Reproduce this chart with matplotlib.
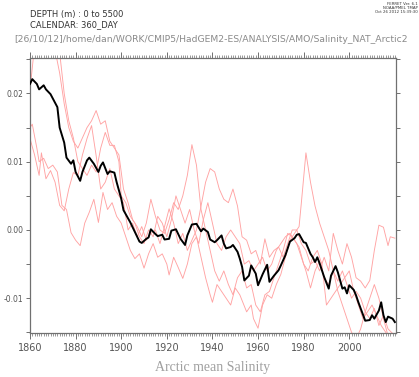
import matplotlib
matplotlib.use("Agg")
import matplotlib.pyplot as plt
from matplotlib.ticker import MultipleLocator, FormatStrFormatter

plt.rcParams['axes.unicode_minus'] = False
plt.rcParams['font.family'] = ['DejaVu Sans']

# Ensemble mean (black)
mean_years = [1860, 1861, 1863, 1864, 1866, 1867, 1869, 1872, 1873, 1875, 1876, 1878, 1879, 1880,
              1882, 1883, 1885, 1886, 1888, 1890, 1891, 1892, 1894, 1895, 1897, 1898, 1900, 1901,
              1904, 1906, 1908, 1909, 1911, 1912, 1913, 1915, 1916, 1918, 1919, 1921, 1922, 1924,
              1926, 1928, 1929, 1931, 1933, 1935, 1936, 1938, 1939, 1941, 1942, 1944, 1945, 1946,
              1948, 1949, 1951, 1952, 1953, 1954, 1956, 1957, 1959, 1960, 1962, 1964, 1965, 1967,
              1969, 1970, 1972, 1974, 1976, 1977, 1978, 1980, 1981, 1983, 1984, 1985, 1986, 1987,
              1989, 1991, 1992, 1994, 1995, 1997, 1998, 1999, 2000, 2002, 2003, 2004, 2006, 2007,
              2009, 2010, 2011, 2013, 2014, 2015, 2016, 2017, 2019, 2020]
mean_vals = [0.0214, 0.0221, 0.0214, 0.0206, 0.0212, 0.0206, 0.0199, 0.0180, 0.0150, 0.0128, 0.0106,
             0.0097, 0.0102, 0.0085, 0.0072, 0.0085, 0.0102, 0.0106, 0.0097, 0.0085, 0.0094, 0.0099,
             0.0082, 0.0086, 0.0084, 0.0070, 0.0046, 0.0029, 0.0011, -0.0003, -0.0017, -0.0019,
             -0.0013, -0.0011, 0.0001, -0.0006, -0.0009, -0.0007, -0.0014, -0.0013, -0.0001, 0.0001,
             -0.0013, -0.0022, -0.0008, 0.0008, 0.0009, -0.0002, 0.0002, -0.0003, -0.0014, -0.0018,
             -0.0015, -0.0008, -0.0020, -0.0027, -0.0025, -0.0022, -0.0032, -0.0042, -0.0054, -0.0074,
             -0.0067, -0.0052, -0.0064, -0.0081, -0.0065, -0.0051, -0.0076, -0.0067, -0.0059, -0.0052,
             -0.0037, -0.0017, -0.0012, -0.0007, -0.0006, -0.0018, -0.0019, -0.0035, -0.0040, -0.0047,
             -0.0040, -0.0049, -0.0069, -0.0086, -0.0067, -0.0053, -0.0062, -0.0086, -0.0084, -0.0093,
             -0.0081, -0.0088, -0.0096, -0.0106, -0.0124, -0.0133, -0.0132, -0.0125, -0.0130, -0.0118,
             -0.0106, -0.0125, -0.0135, -0.0127, -0.0130, -0.0135]

# Ensemble members (red)
m1_years = [1860, 1862, 1866, 1870, 1873, 1875, 1877, 1879, 1881, 1883, 1885, 1887, 1889, 1891, 1893,
            1895, 1897, 1899, 1901, 1903, 1905, 1907, 1909, 1911, 1913, 1915, 1917, 1919, 1921, 1923,
            1925, 1927, 1929, 1931, 1933, 1935, 1937, 1939, 1941, 1943, 1945, 1947, 1949, 1951, 1953,
            1955, 1957, 1959, 1961, 1963, 1965, 1967, 1969, 1971, 1973, 1975, 1977, 1979, 1981, 1983,
            1985, 1987, 1989, 1991, 1993, 1995, 1997, 1999, 2001, 2003, 2005, 2007, 2009, 2011, 2013,
            2015, 2017, 2019, 2020]
m1_vals = [0.0205, 0.0270, 0.0300, 0.0280, 0.0230, 0.0185, 0.0150, 0.0130, 0.0120, 0.0135, 0.0150,
           0.0160, 0.0175, 0.0155, 0.0160, 0.0130, 0.0120, 0.0110, 0.0060, 0.0040, 0.0015, 0.0005,
           -0.0010, 0.0010, 0.0045, 0.0020, 0.0000, -0.0005, 0.0015, 0.0040, 0.0030, 0.0050, 0.0080,
           0.0125, 0.0095, 0.0030, 0.0000, -0.0030, -0.0060, -0.0075, -0.0060, -0.0080, -0.0095,
           -0.0070, -0.0060, -0.0085, -0.0080, -0.0110, -0.0120, -0.0095, -0.0090, -0.0070, -0.0050,
           -0.0030, -0.0005, -0.0010, -0.0020, -0.0040, -0.0060, -0.0085, -0.0060, -0.0045, -0.0070,
           -0.0080, -0.0060, -0.0090, -0.0110, -0.0130, -0.0150, -0.0160, -0.0145, -0.0120, -0.0100,
           -0.0080, -0.0100, -0.0130, -0.0155, -0.0160, -0.0165]

m2_years = [1860, 1861, 1863, 1864, 1866, 1868, 1870, 1872, 1874, 1876, 1878, 1880, 1882, 1884, 1886,
            1888, 1890, 1892, 1894, 1896, 1898, 1900, 1902, 1904, 1906, 1908, 1910, 1912, 1914, 1916,
            1918, 1920, 1921, 1923, 1925, 1927, 1929, 1931, 1933, 1935, 1937, 1939, 1940, 1942, 1944,
            1946, 1948, 1950, 1952, 1955, 1957, 1958, 1960, 1962, 1964, 1966, 1968, 1970, 1972, 1974,
            1976, 1978, 1979, 1981, 1983, 1985, 1987, 1989, 1991, 1993, 1995, 1997, 1999, 2001, 2003,
            2005, 2007, 2009, 2011, 2013, 2015, 2017, 2020]
m2_vals = [0.0150, 0.0155, 0.0120, 0.0100, 0.0105, 0.0090, 0.0095, 0.0085, 0.0036, 0.0030, -0.0004,
           -0.0015, -0.0023, 0.0010, 0.0026, 0.0045, 0.0011, 0.0055, 0.0030, 0.0040, 0.0020, 0.0010,
           -0.0010, -0.0030, -0.0042, -0.0035, -0.0056, -0.0035, -0.0020, -0.0040, -0.0035, -0.0050,
           -0.0066, -0.0040, -0.0055, -0.0071, -0.0050, -0.0020, -0.0010, -0.0040, -0.0070, -0.0095,
           -0.0106, -0.0080, -0.0090, -0.0100, -0.0110, -0.0085, -0.0095, -0.0120, -0.0110, -0.0130,
           -0.0144, -0.0110, -0.0095, -0.0100, -0.0080, -0.0065, -0.0040, -0.0015, -0.0005, 0.0005,
           0.0040, 0.0113, 0.0070, 0.0035, 0.0010, -0.0010, -0.0030, -0.0060, -0.0075, -0.0060,
           -0.0080, -0.0100, -0.0090, -0.0100, -0.0120, -0.0130, -0.0115, -0.0140, -0.0125, -0.0145,
           -0.0155]

m3_years = [1860, 1862, 1864, 1865, 1867, 1869, 1871, 1873, 1875, 1877, 1879, 1881, 1883, 1885, 1887,
            1889, 1891, 1893, 1895, 1897, 1899, 1901, 1903, 1905, 1907, 1909, 1911, 1913, 1915, 1917,
            1919, 1921, 1923, 1925, 1927, 1929, 1931, 1933, 1935, 1937, 1939, 1941, 1943, 1945, 1947,
            1949, 1951, 1953, 1955, 1957, 1959, 1961, 1963, 1965, 1967, 1969, 1971, 1973, 1975, 1977,
            1979, 1981, 1983, 1985, 1987, 1989, 1991, 1993, 1995, 1997, 1999, 2001, 2003, 2005, 2007,
            2009, 2011, 2013, 2015, 2017, 2018, 2020]
m3_vals = [0.0134, 0.0110, 0.0080, 0.0113, 0.0075, 0.0087, 0.0070, 0.0036, 0.0028, 0.0060, 0.0084,
           0.0080, 0.0110, 0.0134, 0.0153, 0.0109, 0.0060, 0.0070, 0.0090, 0.0060, 0.0050, 0.0040,
           0.0000, 0.0010, -0.0010, 0.0005, -0.0015, -0.0005, 0.0000, -0.0020, 0.0005, 0.0031,
           0.0010, -0.0020, -0.0005, -0.0030, -0.0015, 0.0000, 0.0035, 0.0070, 0.0090, 0.0085,
           0.0060, 0.0045, 0.0040, 0.0060, 0.0035, -0.0010, -0.0015, -0.0035, -0.0030, -0.0050,
           -0.0013, -0.0040, -0.0030, -0.0025, -0.0040, -0.0020, 0.0000, 0.0000, -0.0020, -0.0030,
           -0.0050, -0.0045, -0.0060, -0.0040, -0.0060, -0.0005, -0.0030, -0.0050, -0.0020, -0.0040,
           -0.0070, -0.0075, -0.0085, -0.0074, -0.0030, 0.0007, 0.0004, -0.0023, -0.0010, -0.0012]

m4_years = [1860, 1866, 1871, 1873, 1875, 1877, 1879, 1881, 1883, 1885, 1887, 1889, 1891, 1893, 1895,
            1897, 1899, 1900, 1902, 1904, 1906, 1908, 1910, 1912, 1914, 1916, 1918, 1920, 1922, 1924,
            1926, 1928, 1930, 1932, 1934, 1936, 1938, 1940, 1942, 1944, 1946, 1948, 1950, 1952, 1954,
            1956, 1958, 1960, 1962, 1964, 1966, 1968, 1970, 1972, 1974, 1976, 1978, 1980, 1982, 1984,
            1986, 1988, 1990, 1992, 1994, 1996, 1998, 2000, 2002, 2004, 2006, 2008, 2010, 2012, 2014,
            2016, 2018, 2020]
m4_vals = [0.0300, 0.0320, 0.0290, 0.0260, 0.0200, 0.0160, 0.0135, 0.0100, 0.0090, 0.0080, 0.0095,
           0.0085, 0.0120, 0.0143, 0.0124, 0.0124, 0.0100, 0.0050, 0.0040, 0.0020, 0.0010, -0.0010,
           -0.0020, 0.0000, -0.0010, 0.0020, 0.0010, -0.0010, 0.0015, 0.0050, 0.0030, 0.0010,
           0.0030, 0.0000, -0.0020, 0.0015, 0.0040, 0.0010, -0.0020, -0.0030, -0.0010, 0.0000,
           -0.0010, -0.0020, -0.0050, -0.0045, -0.0060, -0.0050, -0.0040, -0.0060, -0.0050, -0.0030,
           -0.0020, -0.0010, -0.0005, -0.0015, -0.0025, -0.0050, -0.0060, -0.0040, -0.0030, -0.0050,
           -0.0110, -0.0100, -0.0090, -0.0080, -0.0070, -0.0060, -0.0090, -0.0110, -0.0130, -0.0120,
           -0.0110, -0.0125, -0.0140, -0.0150, -0.0160, -0.0165]

members = [(m1_years, m1_vals), (m2_years, m2_vals), (m3_years, m3_vals), (m4_years, m4_vals)]

x_ticks = [1860, 1880, 1900, 1920, 1940, 1960, 1980, 2000]
y_ticks = [-0.01, 0.00, 0.01, 0.02]

header1 = "DEPTH (m) : 0 to 5500"
header2 = "CALENDAR: 360_DAY"
path_label = "[26/10/12]/home/dan/WORK/CMIP5/HadGEM2-ES/ANALYSIS/AMO/Salinity_NAT_Arctic2"
ferret_label = "FERRET Ver. 6.1\nNOAA/PMEL TMAP\nOct 26 2012 15:39:30"
title = "Arctic mean Salinity"

W, H = 419, 377
fig = plt.figure(figsize=(W / 100, H / 100), dpi=100)
ax = fig.add_axes([30 / W, 1 - 333 / H, 366 / W, 275 / H])

for yrs, vals in members:
    ax.plot(yrs, vals, color='#ffa3a3', lw=0.65, zorder=2)
ax.plot(mean_years, mean_vals, color='black', lw=1.4, zorder=3)

ax.set_xlim(1860, 2020.5)
ax.set_ylim(-0.0151, 0.0252)

ax.set_xticks(x_ticks)
ax.xaxis.set_minor_locator(MultipleLocator(1))
ax.set_yticks(y_ticks)
ax.yaxis.set_major_formatter(FormatStrFormatter('%.2f'))
ax.yaxis.set_minor_locator(MultipleLocator(0.005))

spine_col = '#707070'
for s in ax.spines.values():
    s.set_color(spine_col)
    s.set_linewidth(0.9)

ax.tick_params(axis='x', which='major', direction='out', length=4, width=0.7, color=spine_col,
               top=True, bottom=True, labelsize=7, labelcolor='#555555', pad=3)
ax.tick_params(axis='x', which='minor', direction='out', length=2, width=0.5, color=spine_col,
               top=True, bottom=True)
ax.tick_params(axis='y', which='major', direction='out', length=3, width=0.7, color=spine_col,
               left=True, right=True, labelsize=5.5, labelcolor='#555555', pad=2)
ax.tick_params(axis='y', which='minor', direction='out', length=3, width=0.7, color=spine_col,
               left=True, right=True)

fig.text(30 / W, 1 - 14 / H, header1, fontsize=6, color='#333333', va='center', ha='left')
fig.text(30 / W, 1 - 25 / H, header2, fontsize=6, color='#333333', va='center', ha='left')
fig.text(14 / W, 1 - 40 / H, path_label, fontsize=6.7, color='#8a8a8a', va='center', ha='left')
fig.text(418 / W, 1 - 8 / H, ferret_label, fontsize=2.8, color='#333333', va='center', ha='right',
         linespacing=1.0)
fig.text(213 / W, 1 - 368 / H, title, fontsize=10, color='#a0a0a0', va='center', ha='center',
         family='Liberation Serif')

fig.savefig('out.png', dpi=100)
